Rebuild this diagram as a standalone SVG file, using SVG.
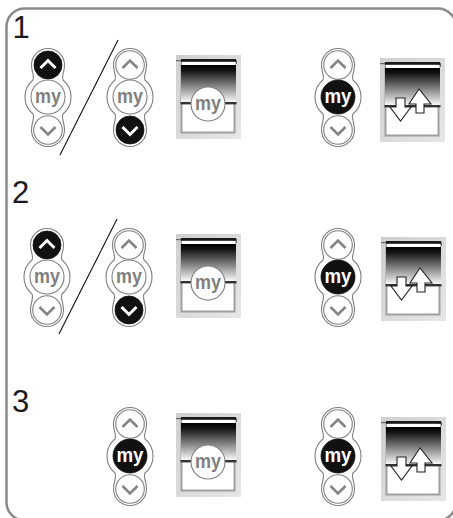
<svg xmlns="http://www.w3.org/2000/svg" xmlns:xlink="http://www.w3.org/1999/xlink" width="453" height="518" viewBox="0 0 453 518">
<style>
text{font-family:"Liberation Sans",Arial,sans-serif}
.num{font-size:31px;fill:#1a1a1a}
.my{font-size:21px;font-weight:bold;text-anchor:middle;fill:#808080}
.myw{font-size:21px;font-weight:bold;text-anchor:middle;fill:#fff}
.ol{fill:#fff;stroke:#808080;stroke-width:1.100}
.on{fill:#111;stroke:#111;stroke-width:.8}
.chev{fill:none;stroke:#858585;stroke-width:2.600}
.chevw{fill:none;stroke:#fff;stroke-width:3}
.slash{stroke:#111;stroke-width:1.100;fill:none}
.arrow{fill:#fff;stroke:#222;stroke-width:1.100}
</style>
<defs>
<linearGradient id="g" x1="0" y1="0" x2="0" y2="1"><stop offset="0" stop-color="#000"/><stop offset=".15" stop-color="#151515"/><stop offset="1" stop-color="#f8f8f8"/></linearGradient>
<linearGradient id="side" x1="0" y1="0" x2="1" y2="1"><stop offset="0" stop-color="#cfcfcf"/><stop offset="1" stop-color="#e6e6e6"/></linearGradient>
<path id="shell" class="ol" d="M-16.500-32A16.500 16.500 0 0 1 16.500-32C16.500-24 13-21 15-17A22 22 0 0 1 15 17C13 21 16.500 25 16.500 33A16.500 16.500 0 0 1-16.500 33C-16.500 25-13 21-15 17A22 22 0 0 1-15-17C-13-21-16.500-24-16.500-32Z"/>
<g id="upoff"><circle class="ol" cy="-32" r="14.300"/><path class="chev" d="M-7.500-29L0-36.500L7.500-29"/></g>
<g id="upon"><circle class="on" cy="-32" r="14"/><path class="chevw" d="M-7.500-29L0-36.500L7.500-29"/></g>
<g id="downoff"><circle class="ol" cy="33" r="14.300"/><path class="chev" d="M-7.500 30L0 37.500L7.500 30"/></g>
<g id="downon"><circle class="on" cy="33" r="14"/><path class="chevw" d="M-7.500 30L0 37.500L7.500 30"/></g>
<g id="myoff"><circle class="ol" r="17"/><text class="my" y="5.500" textLength="26" lengthAdjust="spacingAndGlyphs">my</text></g>
<g id="myon"><circle class="on" r="17"/><text class="myw" y="5.500" textLength="27" lengthAdjust="spacingAndGlyphs">my</text></g>
<g id="blind">
<rect x="0" y="0" width="65" height="84" fill="url(#side)"/>
<rect x="5.500" y="5" width="53" height="72.500" fill="#fff" stroke="#a0a0a0" stroke-width="2"/>
<rect x="5" y="10" width="55" height="37" fill="url(#g)"/>
<rect x="5" y="4" width="55" height="2.800" fill="#1a1a1a"/>
<rect x="0" y="5" width="5" height="1.200" fill="#666"/>
<rect x="60" y="5" width="1" height="4" fill="#666"/>
<rect x="6" y="7" width="53" height="3" fill="#fff"/>
<rect x="4.500" y="47" width="56" height="2.400" fill="#333"/>
</g>
<g id="tag"><circle r="17" fill="#fff" stroke="#808080" stroke-width="1.100"/><text class="my" y="5.500" textLength="26" lengthAdjust="spacingAndGlyphs">my</text></g>
<g id="arrows">
<path class="arrow" d="M16 40V49H10L20.500 63L31 49H25V40Z"/>
<path class="arrow" d="M39 31L29 46H36V55H44V46H51Z"/>
</g>
</defs>
<rect id="frame" x="6.500" y="8.500" width="449.500" height="512" rx="18" fill="#fff" stroke="#8a8a8a" stroke-width="2.500"/>
<text class="num" x="12.500" y="38">1</text>
<text class="num" x="12" y="203">2</text>
<text class="num" x="12" y="412">3</text>
<g id="connectors">
<line class="slash" x1="118" y1="40" x2="60" y2="155"/>
<line class="slash" x1="117" y1="219" x2="59" y2="334"/>
</g>
<g id="remote-1a" transform="translate(48 97)"><use xlink:href="#shell"/><use xlink:href="#upon"/><use xlink:href="#myoff"/><use xlink:href="#downoff"/></g>
<g id="remote-1b" transform="translate(130 97)"><use xlink:href="#shell"/><use xlink:href="#upoff"/><use xlink:href="#myoff"/><use xlink:href="#downon"/></g>
<g id="blind-1" transform="translate(176 55)"><use xlink:href="#blind"/><use xlink:href="#tag" x="32" y="49"/></g>
<g id="remote-1c" transform="translate(338 97)"><use xlink:href="#shell"/><use xlink:href="#upoff"/><use xlink:href="#myon"/><use xlink:href="#downoff"/></g>
<g id="blind-1b" transform="translate(380 58)"><use xlink:href="#blind"/><use xlink:href="#arrows"/></g>
<g id="remote-2a" transform="translate(47 277)"><use xlink:href="#shell"/><use xlink:href="#upon"/><use xlink:href="#myoff"/><use xlink:href="#downoff"/></g>
<g id="remote-2b" transform="translate(129 277)"><use xlink:href="#shell"/><use xlink:href="#upoff"/><use xlink:href="#myoff"/><use xlink:href="#downon"/></g>
<g id="blind-2" transform="translate(176 234)"><use xlink:href="#blind"/><use xlink:href="#tag" x="32" y="49"/></g>
<g id="remote-2c" transform="translate(338 277)"><use xlink:href="#shell"/><use xlink:href="#upoff"/><use xlink:href="#myon"/><use xlink:href="#downoff"/></g>
<g id="blind-2b" transform="translate(381 237)"><use xlink:href="#blind"/><use xlink:href="#arrows"/></g>
<g id="remote-3a" transform="translate(130 456)"><use xlink:href="#shell"/><use xlink:href="#upoff"/><use xlink:href="#myon"/><use xlink:href="#downoff"/></g>
<g id="blind-3" transform="translate(176 413)"><use xlink:href="#blind"/><use xlink:href="#tag" x="32" y="49"/></g>
<g id="remote-3b" transform="translate(338 456)"><use xlink:href="#shell"/><use xlink:href="#upoff"/><use xlink:href="#myon"/><use xlink:href="#downoff"/></g>
<g id="blind-3b" transform="translate(381 417)"><use xlink:href="#blind"/><use xlink:href="#arrows"/></g>
</svg>
